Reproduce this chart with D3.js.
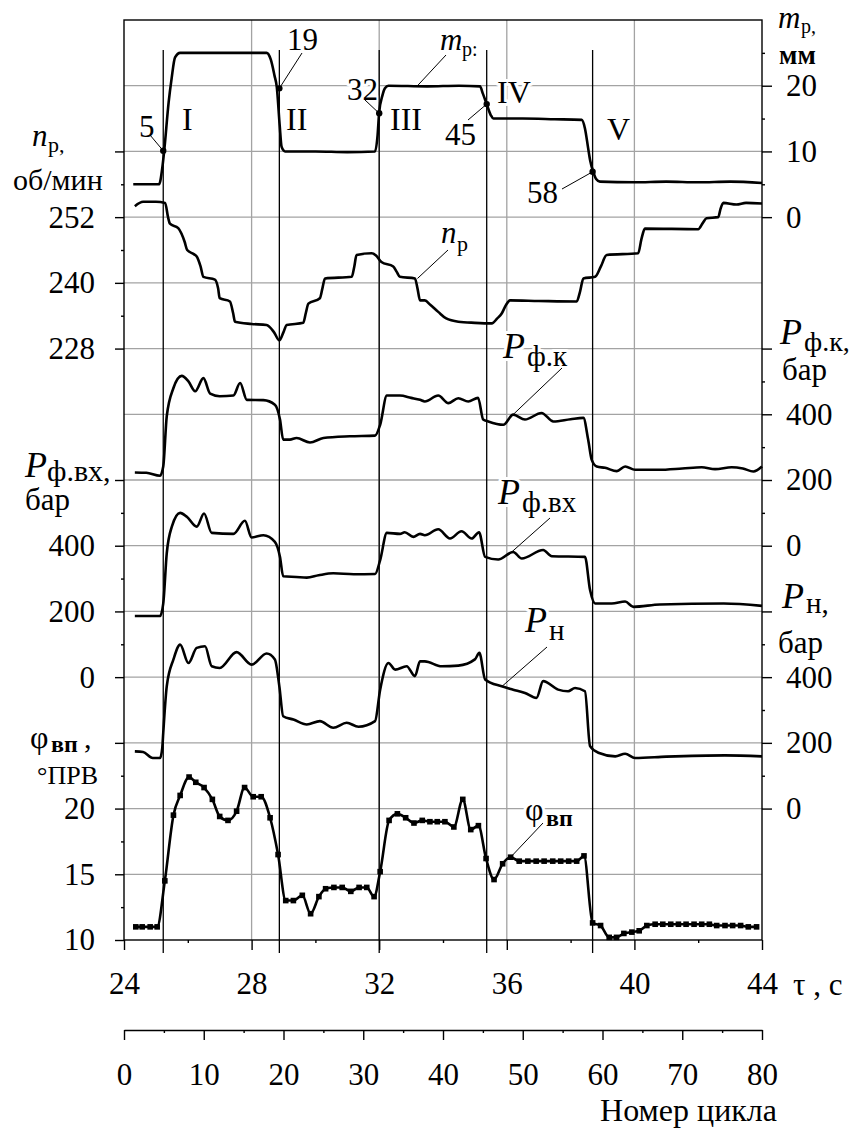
<!DOCTYPE html>
<html><head><meta charset="utf-8">
<script src="https://cdn.jsdelivr.net/npm/d3@7/dist/d3.min.js"></script>
<style>
body{margin:0;background:#fff}
svg text{font-family:'Liberation Serif','Tinos','Times New Roman','DejaVu Serif',serif !important;fill:#000}
</style></head>
<body><svg id="c" width="855" height="1129" font-family="Liberation Serif, DejaVu Serif, serif"></svg>
<script>
// ---------- DATA ----------
const tauTicks=[24,28,32,36,40,44], tauMinor=[26,30,34,38,42], tauGrid=[28,32,36,40];
const cycleTicks=[0,10,20,30,40,50,60,70,80], cycleMinor=[5,15,25,35,45,55,65,75];
const npTicks=[228,240,252,264], npLabeled=[228,240,252], npMinor=[234,246,258];
const mpTicks=[0,10,20], mpMinor=[5,15,25];
const pressTicks=[0,200,400,600], pressLabeled=[0,200,400], pressMinor=[100,300,500];
const phiTicks=[10,15,20,25], phiLabeled=[10,15,20], phiMinor=[12.5,17.5,22.5];

const cycleNums=[5,19,32,45,58];
const cycleTau=[25.23,28.87,32.0,35.37,38.69];
const cycleMp=[10.1,19.6,15.8,17.2,6.9];
const romans=["I","II","III","IV","V"];

const mpData=[[24.29,5.0],[25.10,5.0],[25.2,7.5],[25.26,10.1],[25.4,17.5],[25.49,21.0],[25.6,24.3],[25.76,25.0],[26.5,25.0],[27.5,25.0],[28.47,25.0],[28.6,24.0],[28.72,21.5],[28.79,19.8],[28.88,14],[28.94,10.7],[29.05,10.0],[30.0,10.0],[31.0,9.9],[31.87,10.0],[31.95,12.5],[32.0,16.0],[32.1,18.5],[32.18,19.6],[32.29,20.0],[33.5,19.9],[34.5,20.0],[35.16,19.9],[35.25,18.8],[35.37,17.2],[35.5,15.5],[35.58,15.0],[36.5,15.0],[37.5,14.9],[38.35,14.8],[38.45,13.5],[38.55,10.5],[38.61,8.7],[38.71,6.9],[38.8,5.8],[38.92,5.4],[40,5.3],[41,5.4],[42,5.3],[43,5.4],[44,5.2]];

const npData=[[24.34,254.0],[24.6,254.8],[25.0,254.8],[25.29,254.6],[25.38,252],[25.44,250.8],[25.7,250],[25.8,249],[25.9,247.5],[25.98,246],[26.2,245.2],[26.28,244.8],[26.4,243],[26.49,241.1],[26.85,240.6],[26.95,239],[27.0,237.2],[27.32,236.6],[27.42,234.5],[27.48,232.9],[28.0,232.5],[28.47,232.3],[28.7,231],[28.87,229.5],[29.0,231],[29.1,232.3],[29.62,232.7],[29.7,234.5],[29.78,236.2],[30.14,237.2],[30.22,239],[30.3,240.8],[31.14,241.1],[31.22,243],[31.29,245.1],[31.76,245.4],[31.9,245],[32.07,243.8],[32.44,243],[32.55,242],[32.65,241.1],[33.12,240.8],[33.2,239],[33.28,236.8],[33.43,236.8],[33.6,236],[33.85,234.7],[34.1,233.5],[34.48,232.9],[35.0,232.7],[35.53,232.6],[35.7,233.5],[35.84,234.4],[35.98,236],[36.1,236.8],[37.0,236.7],[38.19,236.6],[38.3,238.5],[38.4,240.8],[38.77,241.1],[38.95,243],[39.13,245.1],[40.12,245.4],[40.22,248],[40.33,249.9],[42.0,249.8],[42.15,251],[42.26,251.8],[42.63,252],[42.7,253.5],[42.79,254.6],[43.2,254.3],[43.5,254.6],[44,254.5]];

const pkData=[[24.34,223],[24.7,222],[25.13,213],[25.23,241],[25.34,394],[25.55,480],[25.81,517],[26.02,500],[26.23,470],[26.49,510],[26.7,463],[27.0,455],[27.43,457],[27.64,495],[27.85,444],[28.37,443],[28.73,429],[28.89,384],[28.99,323],[29.2,323],[29.41,328],[29.83,314],[30.25,328],[31.08,333],[31.87,335],[32.03,368],[32.24,457],[32.65,457],[33.0,450],[33.28,444],[33.43,439],[33.85,457],[34.17,434],[34.48,449],[34.79,439],[35.1,450],[35.26,384],[35.42,378],[35.89,368],[36.2,399],[36.57,384],[37.09,404],[37.46,378],[38.0,385],[38.4,389],[38.55,323],[38.66,262],[38.82,241],[39.08,237],[39.45,227],[39.71,241],[40.02,231],[40.75,231],[41.5,235],[42.11,239],[42.53,233],[43.05,239],[43.4,235],[43.73,226],[44,241]];

const pvxData=[[24.34,186],[25.13,186],[25.23,224],[25.34,377],[25.5,458],[25.76,500],[25.97,488],[26.28,458],[26.51,498],[26.75,439],[27.43,436],[27.79,476],[28.0,425],[28.37,432],[28.73,412],[28.89,366],[28.99,307],[29.4,305],[29.73,303],[30.1,310],[30.56,316],[31.2,313],[31.87,314],[32.03,356],[32.24,439],[32.65,436],[32.8,441],[33.07,427],[33.28,436],[33.43,432],[33.85,450],[34.22,422],[34.58,444],[34.9,422],[35.13,441],[35.32,366],[35.73,358],[36.2,381],[36.47,361],[37.14,387],[37.41,368],[38.45,366],[38.61,265],[38.77,224],[39.29,224],[39.71,230],[39.97,214],[40.8,221],[42.8,224],[44,217]];

const pnData=[[24.34,174],[24.6,172],[24.9,154],[25.13,154],[25.2,185],[25.23,230],[25.34,372],[25.55,454],[25.76,499],[26.02,443],[26.28,489],[26.54,494],[26.75,433],[27.0,428],[27.53,476],[28.0,438],[28.47,472],[28.73,454],[28.87,372],[28.99,281],[29.31,271],[29.73,256],[30.14,266],[30.56,246],[30.98,261],[31.35,249],[31.87,266],[32.03,362],[32.29,443],[32.5,423],[32.86,433],[33.12,403],[33.28,448],[33.43,448],[33.96,433],[34.48,435],[35.0,454],[35.14,474],[35.32,393],[35.84,372],[36.2,362],[36.57,352],[36.93,337],[37.14,388],[37.61,362],[37.92,357],[38.14,367],[38.45,357],[38.61,190],[38.87,170],[39.4,159],[39.71,167],[40.02,154],[41,158],[42.84,162],[44,159]];

const phiData=[[24.37,11.0],[24.57,11.0],[24.82,11.0],[25.04,11.0],[25.28,14.5],[25.55,19.5],[25.76,21.0],[26.04,22.4],[26.25,22.0],[26.51,21.6],[26.77,20.7],[27.0,19.4],[27.26,19.1],[27.53,19.8],[27.78,21.6],[28.05,20.9],[28.30,20.9],[28.58,19.3],[28.83,16.5],[29.07,13.0],[29.31,13.0],[29.59,13.4],[29.85,12.0],[30.11,13.3],[30.32,13.9],[30.58,14.0],[30.84,14.0],[31.11,13.7],[31.37,14.0],[31.61,14.0],[31.84,13.3],[32.03,15.2],[32.31,19.1],[32.57,19.6],[32.83,19.3],[33.09,18.9],[33.35,19.1],[33.59,19.0],[33.82,19.0],[34.06,19.0],[34.34,18.6],[34.62,20.7],[34.87,18.4],[35.11,18.7],[35.35,16.2],[35.60,14.6],[35.87,15.8],[36.12,16.3],[36.39,16.0],[36.66,16.0],[36.92,16.0],[37.17,16.0],[37.44,16.0],[37.69,16.0],[37.94,16.0],[38.19,16.0],[38.42,16.4],[38.69,11.3],[38.94,11.1],[39.21,10.2],[39.44,10.2],[39.67,10.5],[39.92,10.6],[40.15,10.7],[40.39,11.1],[40.65,11.2],[40.89,11.2],[41.14,11.2],[41.38,11.2],[41.62,11.2],[41.87,11.2],[42.11,11.2],[42.35,11.2],[42.58,11.1],[42.84,11.1],[43.08,11.1],[43.33,11.1],[43.57,11.0],[43.83,11.0]];

// ---------- LAYOUT ----------
const L=124,R=762,T=20,B=940, step=(B-T)/14;
const row=i=>T+i*step;
const svg=d3.select("#c");
const x=d3.scaleLinear().domain([24,44]).range([L,R]);
const xc=d3.scaleLinear().domain([0,80]).range([L,R]);
const yM=d3.scaleLinear().domain([0,10]).range([row(3),row(2)]);
const yN=d3.scaleLinear().domain([252,240]).range([row(3),row(4)]);
const yPk=d3.scaleLinear().domain([0,200]).range([row(8),row(7)]);
const yPvx=d3.scaleLinear().domain([0,200]).range([row(10),row(9)]);
const yPn=d3.scaleLinear().domain([0,200]).range([row(12),row(11)]);
const yPhi=d3.scaleLinear().domain([10,15]).range([row(14),row(13)]);
const FS=31, FF="Liberation Serif";

// grid
const grid=svg.append("g").attr("stroke","#a3a3a3").attr("stroke-width",1.3);
d3.range(1,14).forEach(i=>grid.append("line").attr("x1",L).attr("x2",R).attr("y1",row(i)).attr("y2",row(i)));
tauGrid.forEach(t=>grid.append("line").attr("x1",x(t)).attr("x2",x(t)).attr("y1",T).attr("y2",B));

function txt(xp,yp,s,o={}){
  const t=svg.append("text").attr("x",xp).attr("y",yp).text(s).attr("font-family",FF)
    .attr("font-size",o.size||FS).attr("font-style",o.italic?"italic":"normal")
    .attr("font-weight",o.bold?"bold":"normal").attr("text-anchor",o.anchor||"start");
  if(o.halo) t.attr("stroke","#fff").attr("stroke-width",6).attr("paint-order","stroke").attr("stroke-linejoin","round");
  return t;
}
function leader(x1,y1,x2,y2){
  svg.append("line").attr("x1",x1).attr("y1",y1).attr("x2",x2).attr("y2",y2).attr("stroke","#000").attr("stroke-width",1);
}
function axis(gen,tx,ty){
  const g=svg.append("g").attr("transform",`translate(${tx},${ty})`).call(gen).attr("font-family",FF);
  g.select(".domain").remove();
  g.selectAll("line").attr("stroke","#000").attr("stroke-width",1.4);
  g.selectAll("text").attr("font-size",FS).attr("font-family",FF);
  return g;
}
const lbl=arr=>d=>arr.includes(d)?d:"";
// left
axis(d3.axisLeft(yN).tickValues(npTicks).tickSize(9).tickPadding(20).tickFormat(lbl(npLabeled)),L,0);
axis(d3.axisLeft(yN).tickValues(npMinor).tickSize(3).tickFormat(""),L,0);
axis(d3.axisLeft(yPvx).tickValues(pressTicks).tickSize(9).tickPadding(20).tickFormat(lbl(pressLabeled)),L,0);
axis(d3.axisLeft(yPvx).tickValues(pressMinor).tickSize(3).tickFormat(""),L,0);
axis(d3.axisLeft(yPhi).tickValues(phiTicks).tickSize(9).tickPadding(20).tickFormat(lbl(phiLabeled)),L,0);
axis(d3.axisLeft(yPhi).tickValues(phiMinor).tickSize(3).tickFormat(""),L,0);
// right
axis(d3.axisRight(yM).tickValues(mpTicks).tickSize(10).tickPadding(14),R,0);
axis(d3.axisRight(yM).tickValues(mpMinor).tickSize(3).tickFormat(""),R,0);
axis(d3.axisRight(yPk).tickValues(pressTicks).tickSize(10).tickPadding(14).tickFormat(lbl(pressLabeled)),R,0);
axis(d3.axisRight(yPk).tickValues(pressMinor).tickSize(3).tickFormat(""),R,0);
axis(d3.axisRight(yPn).tickValues(pressTicks).tickSize(10).tickPadding(14).tickFormat(lbl(pressLabeled)),R,0);
axis(d3.axisRight(yPn).tickValues(pressMinor).tickSize(3).tickFormat(""),R,0);
// bottom time
axis(d3.axisBottom(x).tickValues(tauTicks).tickSize(10).tickPadding(22),0,B);
axis(d3.axisBottom(x).tickValues(tauMinor).tickSize(3).tickFormat(""),0,B);
// cycle axis
const YC=1030;
const ca=svg.append("g").attr("transform",`translate(0,${YC})`).call(d3.axisBottom(xc).tickValues(cycleTicks).tickSize(10).tickSizeOuter(0).tickPadding(23)).attr("font-family",FF);
ca.select(".domain").attr("stroke","#000").attr("stroke-width",1.4);
ca.selectAll("line").attr("stroke","#000").attr("stroke-width",1.4);
ca.selectAll("text").attr("font-size",FS).attr("font-family",FF);
axis(d3.axisBottom(xc).tickValues(cycleMinor).tickSize(3).tickFormat(""),0,YC);

// annotation texts with halo (drawn before curves)
const numPos=[[139,137],[287,50],[347,100],[445,145],[527,203]];
const numLeader=[[150,135],[302,53],[365,100],[468,120],[562,189]];
cycleNums.forEach((c,i)=>txt(numPos[i][0],numPos[i][1],String(c),{halo:true}));
const romPos=[[182,130],[286,130],[390,130],[497,103],[607,140]];
romans.forEach((r,i)=>txt(romPos[i][0],romPos[i][1],r,{halo:true,size:32}));

// series labels inside
txt(440,50,"m",{italic:true,halo:true,size:31}); txt(462,56,"р:",{halo:true,size:20});
txt(441,243,"n",{italic:true,halo:true,size:31}); txt(457,251,"р",{halo:true,size:22});
txt(503,358,"P",{italic:true,halo:true,size:36}); txt(527,366,"ф.к",{halo:true,size:29});
txt(498,504,"P",{italic:true,halo:true,size:36}); txt(522,512,"ф.вх",{halo:true,size:29});
txt(525,632,"P",{italic:true,halo:true,size:36}); txt(549,640,"н",{halo:true,size:29});
txt(525,820,"φ",{halo:true,size:32}); txt(546,826,"вп",{halo:true,size:24,bold:true});

// frame
svg.append("rect").attr("x",L).attr("y",T).attr("width",R-L).attr("height",B-T).attr("fill","none").attr("stroke","#000").attr("stroke-width",1.4);
cycleTau.forEach(t=>svg.append("line").attr("x1",x(t)).attr("x2",x(t)).attr("y1",50).attr("y2",953).attr("stroke","#000").attr("stroke-width",1.3));

// curves
function curve(data,ys){
  svg.append("path").datum(data).attr("fill","none").attr("stroke","#000").attr("stroke-width",2.6).attr("stroke-linejoin","round")
    .attr("d",d3.line().x(d=>x(d[0])).y(d=>ys(d[1])).curve(d3.curveMonotoneX));
}
curve(mpData,yM); curve(npData,yN); curve(pkData,yPk); curve(pvxData,yPvx); curve(pnData,yPn); curve(phiData,yPhi);
svg.append("g").selectAll("rect").data(phiData).join("rect")
  .attr("x",d=>x(d[0])-2.8).attr("y",d=>yPhi(d[1])-2.8).attr("width",5.6).attr("height",5.6).attr("fill","#000");
cycleTau.forEach((t,i)=>svg.append("circle").attr("cx",x(t)).attr("cy",yM(cycleMp[i])).attr("r",3.2).attr("fill","#000"));
cycleTau.forEach((t,i)=>leader(numLeader[i][0],numLeader[i][1],x(t),yM(cycleMp[i])));
leader(446,55,x(33.2),yM(20));
leader(448,250,x(33.2),yN(240.8));
leader(562,368,x(36.1),yPk(390));
leader(550,518,x(36.05),yPvx(372));
leader(547,647,x(35.85),yPn(372));
leader(543,823,x(36.12),yPhi(16.3));

// outer axis titles
txt(32,146,"n",{italic:true,size:31}); txt(48,152,"р,",{size:22});
txt(13,190,"об/мин",{size:30});
txt(25,477,"P",{italic:true,size:36}); txt(47,481,"ф.вх,",{size:30});
txt(25,510,"бар",{size:31});
txt(30,748,"φ",{size:32}); txt(51,752,"вп",{size:24,bold:true}); txt(84,748,",",{size:30});
txt(37,784,"°ПРВ",{size:26});
txt(778,28,"m",{italic:true,size:31}); txt(801,33,"р,",{size:20});
txt(779,64,"мм",{size:27,bold:true});
txt(780,344,"P",{italic:true,size:36}); txt(804,351,"ф.к,",{size:28});
txt(782,380,"бар",{size:31});
txt(782,608,"P",{italic:true,size:36}); txt(806,613,"н,",{size:29});
txt(778,653,"бар",{size:31});
txt(793,995,"τ , с",{size:31});
txt(777,1121,"Номер цикла",{size:32,anchor:"end"});
</script></body></html>
